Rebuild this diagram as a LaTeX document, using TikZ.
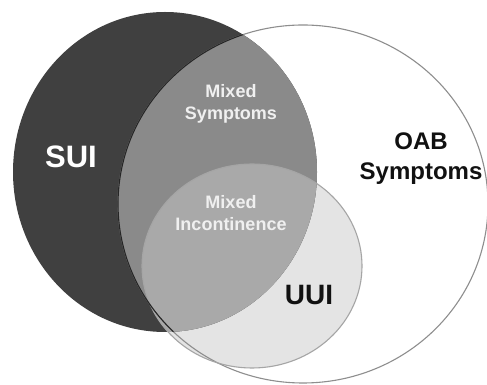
\documentclass[tikz,border=0pt]{standalone}
\usepackage{fontspec}
\setmainfont{Liberation Sans}
\usetikzlibrary{positioning}
\definecolor{suidark}{HTML}{404040}
\definecolor{mixmid}{HTML}{8A8A8A}
\definecolor{mixlight}{HTML}{A9A9A9}
\definecolor{uuilight}{HTML}{E4E4E4}
\definecolor{rim}{HTML}{8E8E8E}
\definecolor{ink}{HTML}{111111}

\begin{document}
\begin{tikzpicture}[
  x=1pt,
  y=1pt,
  edge/.style={line width=1.1pt, color=rim},
  darkedge/.style={line width=1.1pt, color=suidark!60!black},
  biglabel/.style={font=\bfseries\fontsize{31}{34}\selectfont, text=white},
  setlabel/.style={font=\bfseries\fontsize{24}{30}\selectfont, text=ink, align=center},
  mixlabel/.style={font=\bfseries\fontsize{18}{22}\selectfont, text=white!94!black, align=center},
]

\useasboundingbox (0,0) rectangle (487,385);
\clip (0,0) rectangle (487,385);
\fill[white] (0,0) rectangle (487,385);

\coordinate (sui) at (165,213);
\coordinate (oab) at (303,181);
\coordinate (uui) at (252,119);

% base fills, then the overlaps inside SUI
\fill[white] (oab) ellipse [x radius=185, y radius=179];
\fill[uuilight] (uui) ellipse [x radius=110, y radius=102];
\fill[suidark] (sui) ellipse [x radius=152, y radius=160];
\begin{scope}
  \clip (sui) ellipse [x radius=152, y radius=160];
  \fill[mixmid] (oab) ellipse [x radius=185, y radius=179];
  \fill[mixlight] (uui) ellipse [x radius=110, y radius=102];
\end{scope}

\draw[edge] (oab) ellipse [x radius=185, y radius=179];
\draw[edge, color=rim!80] (uui) ellipse [x radius=110, y radius=102];
% OAB rim shows dark where it runs through SUI
\begin{scope}
  \clip (sui) ellipse [x radius=152, y radius=160];
  \draw[darkedge] (oab) ellipse [x radius=185, y radius=179];
\end{scope}

\node[biglabel] (suilabel) at (71,228) {SUI};
\node[setlabel] (oablabel) at (421,226) {OAB\\Symptoms};
\node[setlabel, font=\bfseries\fontsize{28}{30}\selectfont] (uuilabel) at (309,90) {UUI};
\node[mixlabel] (mixsym) at (231,281) {Mixed\\Symptoms};
\node[mixlabel] (mixinc) at (231,172) {Mixed\\Incontinence};

\end{tikzpicture}
\end{document}
